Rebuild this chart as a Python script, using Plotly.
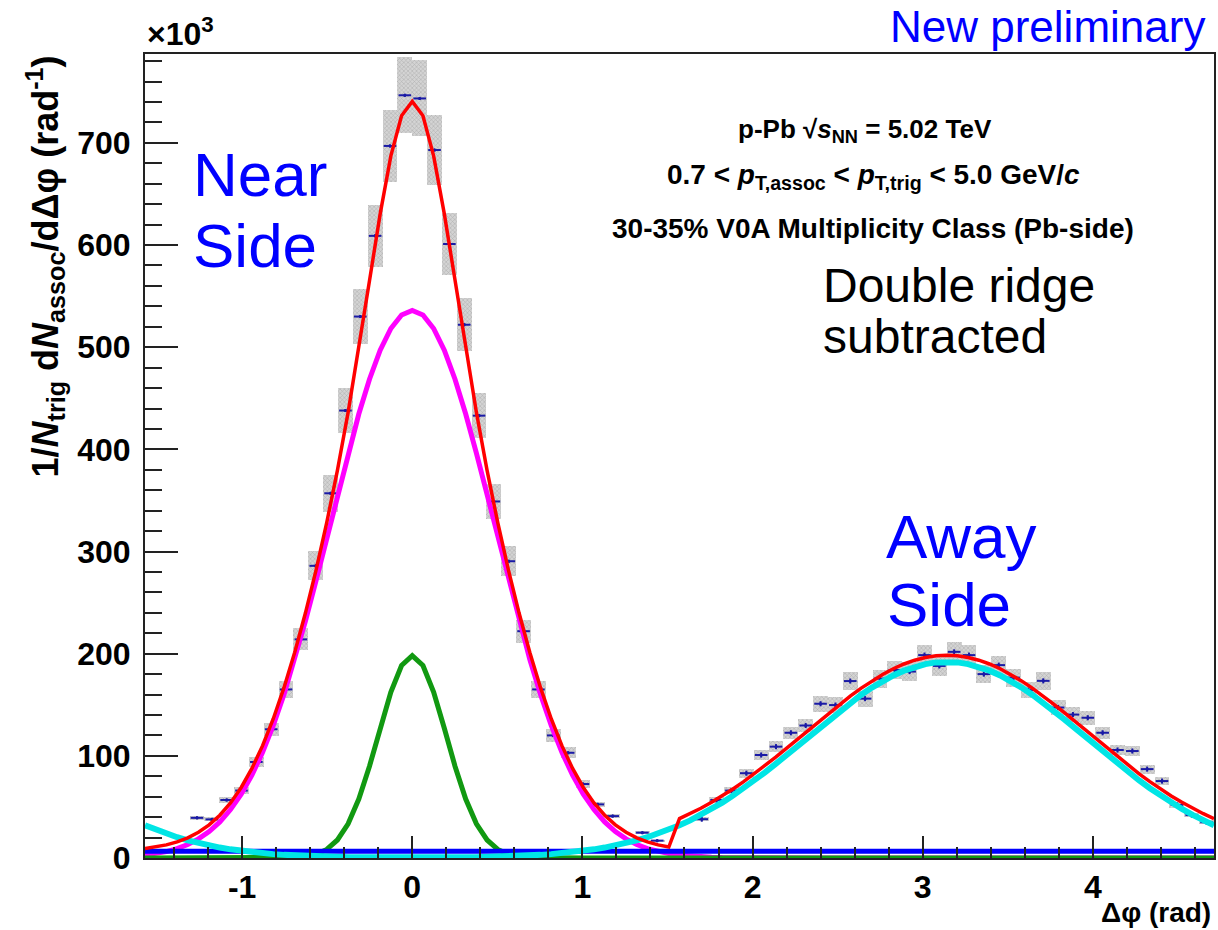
import numpy as np
import plotly.graph_objects as go

# ---------------- data ----------------
N_BINS = 72
X_MIN, X_MAX = -np.pi / 2, 3 * np.pi / 2
BIN_W = (X_MAX - X_MIN) / N_BINS
bin_centers = X_MIN + (np.arange(N_BINS) + 0.5) * BIN_W

# per-trigger yield (x10^3), None where no point is drawn
yield_vals = [
    None, None, None, 39.3, 37.8, 56.8, 66.0, 94.0, 126.0, 165.0,
    214.0, 286.0, 357.0, 438.0, 530.0, 609.0, 697.0, 746.6, 743.5, 693.0,
    601.0, 522.0, 433.0, 349.0, 290.5, 222.0, 165.0, 120.0, 103.0, 72.4,
    52.5, 41.0, None, 24.8, 17.0, None, None, 38.0, 56.8, 66.0,
    83.0, 100.8, 109.0, 122.6, 129.7, 151.0, 149.7, 173.2, 156.0, 175.6,
    184.0, 182.5, 198.6, 188.0, 201.8, 198.6, 180.0, 188.8, 176.6, 164.4,
    173.4, 147.3, 140.4, 137.3, 122.6, 105.7, 104.7, 87.0, 75.3, 52.0,
    42.0, 35.0,
]
stat_err = [
    None, None, None, 1.5, 1.5, 1.5, 1.5, 1.5, 1.5, 1.5,
    1.5, 1.5, 1.5, 1.5, 1.5, 1.5, 1.5, 1.5, 1.5, 1.5,
    1.5, 1.5, 1.5, 1.5, 1.5, 1.5, 1.5, 1.5, 1.5, 1.5,
    1.5, 1.5, None, 1.5, 1.5, None, None, 2.5, 2.5, 2.5,
    2.5, 2.5, 2.5, 2.5, 2.5, 2.5, 2.5, 2.5, 2.5, 2.5,
    2.5, 2.5, 2.5, 2.5, 2.5, 2.5, 2.5, 2.5, 2.5, 2.5,
    2.5, 2.5, 2.5, 2.5, 2.5, 2.5, 2.5, 2.5, 2.5, 2.5,
    2.5, 2.5,
]
sys_err = [
    None, None, None, 2.0, 1.9, 2.8, 3.3, 4.7, 6.3, 8.3,
    10.7, 14.3, 17.9, 21.9, 26.5, 30.5, 34.9, 37.3, 37.2, 34.7,
    30.1, 26.1, 21.7, 17.5, 14.5, 11.1, 8.3, 6.0, 5.2, 3.6,
    2.6, 2.1, None, 1.2, 0.9, None, None, 1.9, 2.8, 3.3,
    4.2, 5.0, 5.5, 6.1, 6.5, 7.6, 7.5, 8.7, 7.8, 8.8,
    9.2, 9.1, 9.9, 9.4, 10.1, 9.9, 9.0, 9.4, 8.8, 8.2,
    8.7, 7.4, 7.0, 6.9, 6.1, 5.3, 5.2, 4.4, 3.8, 2.6,
    2.1, 1.8,
]

# fit components (x10^3)
baseline_level = 6.5
ns_broad_amp, ns_broad_sigma = 536.0, 0.485     # near-side broad Gaussian
ns_narrow_amp, ns_narrow_sigma = 198.0, 0.20    # near-side narrow Gaussian
as_amp, as_sigma = 192.0, 0.83                  # away-side Gaussian at pi

x_tick_vals = [-1, 0, 1, 2, 3, 4]
x_tick_labels = ["-1", "0", "1", "2", "3", "4"]

# ---------------- derived ----------------
def gauss(x, a, mu, s):
    return a * np.exp(-0.5 * ((x - mu) / s) ** 2)

xf = np.linspace(X_MIN, X_MAX, 101)
f_broad = gauss(xf, ns_broad_amp, 0.0, ns_broad_sigma)
f_narrow = gauss(xf, ns_narrow_amp, 0.0, ns_narrow_sigma)
f_away = gauss(xf, as_amp, np.pi, as_sigma) + gauss(xf, as_amp, -np.pi, as_sigma)
f_base = np.full_like(xf, baseline_level)
f_total = np.where(xf < np.pi / 2 - 1e-9,
                   f_broad + f_narrow + baseline_level,
                   f_away + baseline_level)

pts_x, pts_y, pts_stat, box_x, box_base, box_h = [], [], [], [], [], []
for xc, yv, se, sy in zip(bin_centers, yield_vals, stat_err, sys_err):
    if yv is None:
        continue
    pts_x.append(xc)
    pts_y.append(yv)
    pts_stat.append(se)
    box_x.append(xc)
    box_base.append(yv - sy)
    box_h.append(2 * sy)

# ---------------- figure ----------------
fig = go.Figure()

fig.add_trace(go.Bar(
    x=box_x, y=box_h, base=box_base, width=BIN_W,
    marker=dict(color="#d4d4d4", line=dict(width=0),
                pattern=dict(shape="x", size=3, solidity=0.35,
                             fgcolor="#8c8c8c", fillmode="overlay")),
    hoverinfo="skip", showlegend=False,
))

fig.add_trace(go.Scatter(
    x=pts_x, y=pts_y, mode="markers",
    marker=dict(size=3, color="#1a1aa6"),
    error_x=dict(type="constant", value=BIN_W / 2 * 0.85, width=0, thickness=2, color="#1a1aa6"),
    error_y=dict(type="data", array=pts_stat, width=0, thickness=2, color="#1a1aa6"),
    showlegend=False,
))

line_specs = [
    (f_broad, "#ff00ff", 5),
    (f_narrow, "#119911", 5),
    (f_base, "#0000ff", 5),
    (f_away, "#00e5e5", 6),
    (f_total, "#ff0000", 3.5),
]
for yv, col, w in line_specs:
    fig.add_trace(go.Scatter(x=xf, y=yv, mode="lines",
                             line=dict(color=col, width=w),
                             showlegend=False, hoverinfo="skip"))

FONT = "Liberation Sans, Arial, Helvetica, sans-serif"

fig.update_layout(
    width=1218, height=930,
    margin=dict(l=145, r=2, t=54, b=72),
    paper_bgcolor="white", plot_bgcolor="white",
    bargap=0, barmode="overlay",
    font=dict(family=FONT, color="black"),
    xaxis=dict(
        range=[X_MIN, X_MAX], tickvals=x_tick_vals, ticktext=x_tick_labels,
        ticks="inside", ticklen=22, tickwidth=2, tickcolor="#222",
        minor=dict(ticks="inside", ticklen=11, tickwidth=2, tickcolor="#222",
                   dtick=0.2, tick0=0, showgrid=False),
        showline=True, mirror=True, linewidth=2, linecolor="#222",
        showgrid=False, zeroline=False,
        tickfont=dict(family=FONT, size=32, weight="bold"),
    ),
    yaxis=dict(
        range=[0, 787], dtick=100, tick0=0,
        ticks="inside", ticklen=33, tickwidth=2, tickcolor="#222",
        minor=dict(ticks="inside", ticklen=17, tickwidth=2, tickcolor="#222",
                   dtick=20, tick0=0, showgrid=False),
        showline=True, mirror=True, linewidth=2, linecolor="#222",
        showgrid=False, zeroline=False,
        tickfont=dict(family=FONT, size=32, weight="bold"),
        ticklabelstandoff=6,
    ),
)


def label(text, x, y, size, color="black", xanchor="left", yanchor="top",
          weight="normal", ref="data"):
    xr, yr = ("x", "y") if ref == "data" else ("paper", "paper")
    return dict(text=text, xref=xr, yref=yr, x=x, y=y, xanchor=xanchor,
                yanchor=yanchor, showarrow=False,
                font=dict(size=size, family=FONT, color=color, weight=weight))


annotations = [
    label("×10<sup>3</sup>", 0.0, 1.0, 32, yanchor="bottom", weight="bold", ref="paper"),
    dict(text="1/<i>N</i><sub>trig</sub> d<i>N</i><sub>assoc</sub>/dΔφ (rad<sup>-1</sup>)",
         xref="paper", yref="paper", x=-0.094, y=1.0, xanchor="center", yanchor="top",
         textangle=-90, showarrow=False,
         font=dict(size=36, family=FONT, weight="bold")),
    label("Δφ (rad)", 0.999, -0.0895, 28, xanchor="right", yanchor="bottom",
          weight="bold", ref="paper"),
    label("New preliminary", 0.9935, 1.0672, 44, color="#0000ff", xanchor="right", ref="paper"),
    label("Near", -1.30, 705, 62, color="#0000ff"),
    label("Side", -1.30, 635, 62, color="#0000ff"),
    label("Away", 2.77, 350, 62, color="#0000ff"),
    label("Side", 2.78, 284, 62, color="#0000ff"),
    label("Double ridge", 2.40, 588, 48, yanchor="top"),
    label("subtracted", 2.40, 538, 48, yanchor="top"),
    label("p-Pb √<i>s</i><sub>NN</sub> = 5.02 TeV", 2.66, 712, 26,
          xanchor="center", yanchor="middle", weight="bold"),
    label("0.7 < <i>p</i><sub>T,assoc</sub> < <i>p</i><sub>T,trig</sub> < 5.0 GeV/<i>c</i>",
          2.71, 667, 28, xanchor="center", yanchor="middle", weight="bold"),
    label("30-35% V0A Multiplicity Class (Pb-side)", 2.71, 616, 28,
          xanchor="center", yanchor="middle", weight="bold"),
]
fig.update_layout(annotations=annotations)

fig.write_html("out.html")
